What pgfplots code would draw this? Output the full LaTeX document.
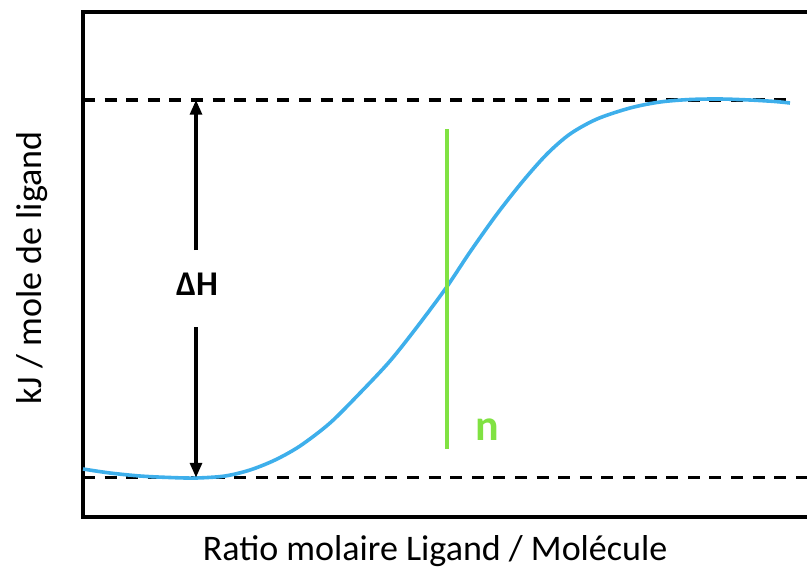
\documentclass[border=0pt]{standalone}
\usepackage{pgfplots}
\pgfplotsset{compat=1.18}
\usepackage{fontspec}
\setmainfont{Carlito}
\usetikzlibrary{calc,arrows.meta}
\definecolor{curveblue}{RGB}{62,175,235}
\definecolor{ngreen}{RGB}{128,226,66}
\begin{document}
\begin{tikzpicture}[x=0.75pt,y=0.75pt]
\begin{axis}[
  name=ax,
  scale only axis,
  width=544.5pt, height=378.75pt,
  xmin=83, xmax=809, ymin=12, ymax=517,
  y dir=reverse,
  xtick=\empty, ytick=\empty,
  axis line style={line width=2.5pt},
  clip=false,
  xlabel={Ratio molaire Ligand / Molécule},
  ylabel={kJ / mole de ligand},
  label style={font=\fontsize{27}{32}\selectfont},
  xlabel style={at={(axis description cs:0.485,0)}, anchor=base, yshift=-32.5pt},
  ylabel style={at={(axis description cs:-0.0565,0.493)}, anchor=base},
]
% dashed reference lines
\addplot[black, line width=2.6pt, dash pattern=on 9pt off 7.2pt, forget plot] coordinates {(83,100) (793,100)};
\addplot[black, line width=2.6pt, dash pattern=on 9pt off 7.2pt, forget plot] coordinates {(83,477.5) (809,477.5)};
% titration curve
\addplot[curveblue, line width=2.7pt, smooth] coordinates {
(83,469) (110,473) (140,476) (170,477.5) (196,478) (225,476) (250,470)
(275,460) (300,446) (330,423) (360,393) (390,361) (417,327) (446,288)
(470,252) (497,214) (523,181) (547,154) (570,134) (597,119) (630,108)
(660,102) (690,99.5) (720,99) (750,100) (775,101.5) (790,103)
};
% n line
\addplot[ngreen, line width=2.5pt] coordinates {(447,129) (447,449)};
% Delta H arrows
\addplot[black, line width=2.3pt, -{Triangle[length=11pt,width=9pt]}] coordinates {(196,250) (196,100)};
\addplot[black, line width=2.3pt, -{Triangle[length=11pt,width=9pt]}] coordinates {(196,327) (196,477.5)};
\node[anchor=base, font=\fontsize{26}{30}\selectfont\bfseries] at (axis cs:197,295) {ΔH};
\node[anchor=base, font=\fontsize{33}{38}\selectfont\bfseries, text=ngreen] at (axis cs:487,440) {n};
\end{axis}
\pgfresetboundingbox
\path ($(ax.south west)+(-62.25pt,-39pt)$) rectangle ($(ax.north east)+(-1.5pt,9pt)$);
\end{tikzpicture}
\end{document}
